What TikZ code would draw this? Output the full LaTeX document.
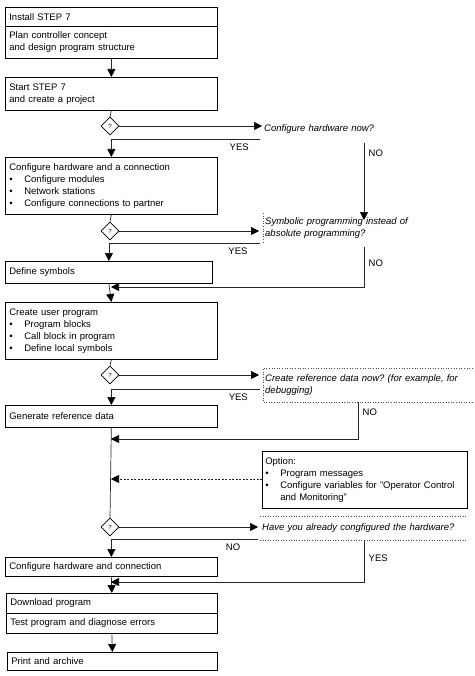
\documentclass[tikz,border=0pt]{standalone}
\usepackage{fontspec}
\setmainfont{Liberation Sans}
\usetikzlibrary{shapes.geometric,arrows.meta}
\newcommand{\blt}{\makebox[15pt][l]{\textbullet}}
\frenchspacing

\begin{document}
\begin{tikzpicture}[x=1pt,y=-1pt,
  font=\fontsize{9.5}{12}\selectfont,
  box/.style={draw,line width=0.7pt,anchor=north west,inner xsep=4pt,inner ysep=0pt,align=left,text width=#1},
  ask/.style={anchor=north west,inner xsep=2pt,inner ysep=0pt,align=left,text width=#1,font=\fontsize{9.5}{12}\selectfont\itshape},
  decide/.style={diamond,draw,line width=0.6pt,minimum width=18pt,minimum height=18pt,inner sep=0pt,font=\fontsize{6}{6}\selectfont},
  link/.style={draw=black!85,line width=0.7pt},
  flow/.style={link,-{Triangle[length=8pt,width=8pt,color=black]}},
  hint/.style={black!70,dotted,line width=0.6pt}]

\useasboundingbox (0,0) rectangle (474,676);

% Schritte links
\node[box=204,minimum height=19] (install) at (5,7) {Install STEP 7};
\node[box=204,minimum height=32] (plan) at (5,26) {Plan controller concept\\and design program structure};
\node[box=204,minimum height=33] (start) at (5,77) {Start STEP 7\\and create a project};
\node[box=204,minimum height=57] (hwconf) at (5,157) {Configure hardware and a connection\\\blt Configure modules\\\blt Network stations\\\blt Configure connections to partner};
\node[box=199,minimum height=22] (symbols) at (5,261) {Define symbols};
\node[box=204,minimum height=57] (userprog) at (5,302) {Create user program\\\blt Program blocks\\\blt Call block in program\\\blt Define local symbols};
\node[box=204,minimum height=22] (refdata) at (5,405) {Generate reference data};
\node[box=204,minimum height=19] (hwconf2) at (5,557) {Configure hardware and connection};
\node[box=203,minimum height=20] (download) at (6,593) {Download program};
\node[box=203,minimum height=20] (test) at (6,613) {Test program and diagnose errors};
\node[box=202,minimum height=18] (archive) at (7,652) {Print and archive};

% Abfragen
\node[decide] (q1) at (110,126) {?};
\node[decide] (q2) at (110,231) {?};
\node[decide] (q3) at (110,375) {?};
\node[decide] (q4) at (110,527) {?};

% Fragen rechts
\node[ask=200,minimum height=14] (ask1) at (262,122) {Configure hardware now?};
\node[ask=205,minimum height=30] (ask2) at (263,213) {Symbolic programming instead of\\absolute programming?};
\node[ask=205,minimum height=34] (ask3) at (263,368) {Create reference data now? (for example, for\\debugging)};
\node[ask=203,minimum height=24] (ask4) at (260,516) {Have you already congfigured the hardware?};
\node[box=199,minimum height=57,inner xsep=3pt,line width=0.6pt] (option) at (262,451) {Option:\\\blt Program messages\\\blt Configure variables for "Operator Control\\\hspace*{15pt}and Monitoring"};

\draw[hint] (ask2.north west) -- (ask2.south west);						% Rand Frage 2
\draw[hint] (ask3.north east) -- (ask3.north west) -- (ask3.south west) -- (ask3.south east);	% Rand Frage 3
\draw[hint] (ask4.north west) -- (ask4.north east);						% Rand Frage 4 oben
\draw[hint] (ask4.south west) -- (ask4.south east);						% Rand Frage 4 unten

% Hilfspunkte
\coordinate (yes1) at (260,139);
\coordinate (no1) at (364,143);
\coordinate (no1end) at (364,220);
\coordinate (yes2) at (260,243);
\coordinate (no2) at (364,247);
\coordinate (join2) at (111,287);
\coordinate (yes3) at (260,389);
\coordinate (no3) at (358,402);
\coordinate (join3) at (111,439);
\coordinate (join4) at (111,479);
\coordinate (no4) at (258,539);
\coordinate (yes4) at (364,541);
\coordinate (join5) at (111,582);

% Hauptlinie
\draw[flow] (plan.south) -- (start.north);
\draw[link] (start.south) -- (q1.north);
\draw[link] (hwconf.south) -- (q2.north);
\draw[flow] (symbols.south) -- (userprog.north);
\draw[link] (userprog.south) -- (q3.north);
\draw[link] (refdata.south) -- (q4.north);
\draw[flow] (hwconf2.south) -- (download.north);
\draw[flow] (test.south) -- (archive.north);

% Abfrage 1
\draw[flow] (q1.east) -- (q1.east -| ask1.west);
\draw[flow] (yes1) -| (hwconf.north) node[pos=0.07,below=1pt] {YES};
\draw[flow] (no1) -- (no1end) node[pos=0.13,right=1pt] {NO};

% Abfrage 2
\draw[flow,shorten >=4pt] (q2.east) -- (q2.east -| ask2.west);
\draw[flow] (yes2) -| (symbols.north) node[pos=0.073,below=1pt] {YES};
\draw[flow] (no2) |- (join2) node[pos=0.2,right=1pt] {NO};

% Abfrage 3
\draw[flow,shorten >=4pt] (q3.east) -- (q3.east -| ask3.west);
\draw[flow] (yes3) -| (refdata.north) node[pos=0.073,below=1pt] {YES};
\draw[flow] (no3) |- (join3) node[pos=0.135,right=1pt] {NO};

% Option und Abfrage 4
\draw[flow,dashed,dash pattern=on 2pt off 1.5pt] (option.west |- join4) -- (join4);
\draw[flow,shorten >=2pt] (q4.east) -- (q4.east -| ask4.west);
\draw[flow] (no4) -| (hwconf2.north) node[pos=0.085,below=1pt] {NO};
\draw[flow] (yes4) |- (join5) node[pos=0.21,right=1pt] {YES};

\end{tikzpicture}
\end{document}
